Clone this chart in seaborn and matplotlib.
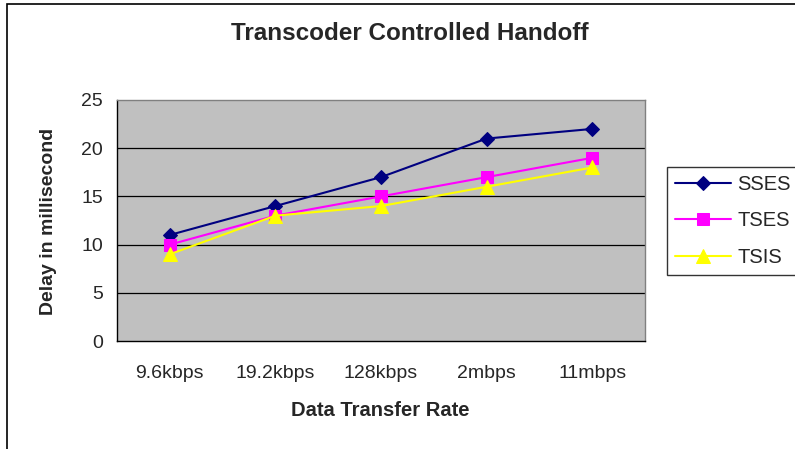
import matplotlib
matplotlib.use("Agg")
import matplotlib.pyplot as plt
import seaborn as sns
import pandas as pd
from matplotlib.patches import Rectangle
from matplotlib.ticker import FixedLocator

categories = ["9.6kbps", "19.2kbps", "128kbps", "2mbps", "11mbps"]
sses = [11, 14, 17, 21, 22]
tses = [10, 13, 15, 17, 19]
tsis = [9, 13, 14, 16, 18]
series_names = ["SSES", "TSES", "TSIS"]

sns.set_style("white")
plt.rcParams["font.family"] = ["Liberation Sans", "DejaVu Sans"]

rows = []
for name, vals in zip(series_names, [sses, tses, tsis]):
    for i, (c, v) in enumerate(zip(categories, vals)):
        rows.append({"pos": i, "cat": c, "series": name, "delay": v})
df = pd.DataFrame(rows)

fig = plt.figure(figsize=(7.95, 4.49), dpi=100)
ax = fig.add_axes([117/795, 1-341/449, (645-117)/795, (341-100)/449])
ax.set_facecolor("#C0C0C0")

palette = {"SSES": "#000080", "TSES": "#FF00FF", "TSIS": "#FFFF00"}
markers = {"SSES": "D", "TSES": "s", "TSIS": "^"}
sizes = {"SSES": 7.5, "TSES": 9, "TSIS": 10}
for name in series_names:
    sub = df[df.series == name]
    sns.lineplot(data=sub, x="pos", y="delay", color=palette[name], marker=markers[name],
                 markersize=sizes[name], markeredgecolor=palette[name], linewidth=1.5,
                 ax=ax, label=name, legend=False)

ax.set_xlim(-0.5, 4.5)
ax.set_ylim(0, 25)
ax.set_yticks([0, 5, 10, 15, 20, 25])
ax.set_xticks(range(len(categories)))
ax.set_xticklabels(categories)
ax.xaxis.set_minor_locator(FixedLocator([-0.5, 0.5, 1.5, 2.5, 3.5, 4.5]))
ax.tick_params(axis="x", which="major", length=0, pad=17, labelsize=14)
ax.tick_params(axis="x", which="minor", length=5, width=1, color="black", direction="out")
ax.tick_params(axis="y", which="major", length=5, width=1, color="black", direction="out",
               labelsize=14, pad=5)
for v in [5, 10, 15, 20]:
    ax.axhline(v, color="black", linewidth=0.9, zorder=0.5)
for s in ["left", "bottom"]:
    ax.spines[s].set_color("black")
    ax.spines[s].set_linewidth(1)
for s in ["top", "right"]:
    ax.spines[s].set_color("#808080")
    ax.spines[s].set_linewidth(1)

ax.set_xlabel("")
ax.set_ylabel("")
fig.text(380/795, 1-410/449, "Data Transfer Rate", fontsize=14.5, fontweight="bold",
         ha="center", va="center")
fig.text(49/795, 1-221/449, "Delay in millisecond", fontsize=14, fontweight="bold",
         ha="center", va="center", rotation=90)
fig.text(410/795, 1-33/449, "Transcoder Controlled Handoff", fontsize=17.5, fontweight="bold",
         ha="center", va="center")

handles, labels = ax.get_legend_handles_labels()
leg = fig.legend(handles, labels, loc="center left", bbox_to_anchor=(667/795, 1-221/449),
                 frameon=True, fancybox=False, edgecolor="black", fontsize=14.5,
                 handlelength=2.8, labelspacing=0.85, borderpad=0.4, handletextpad=0.3,
                 borderaxespad=0)
leg.get_frame().set_linewidth(1)

fig.patches.append(Rectangle((7/795, -0.01), 1.0, 1.0, transform=fig.transFigure,
                             fill=False, edgecolor="black", linewidth=1.2, zorder=10))

fig.savefig("out.png", dpi=100)
